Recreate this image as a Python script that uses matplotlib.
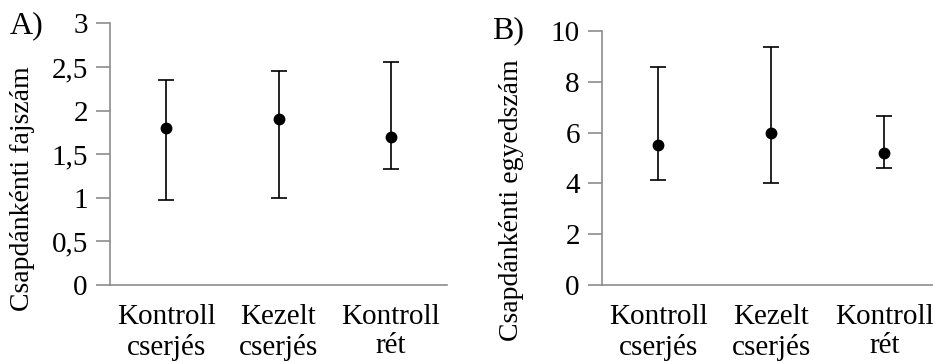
import matplotlib
matplotlib.use("Agg")
import matplotlib.pyplot as plt

categories = ["Kontroll\ncserjés", "Kezelt\ncserjés", "Kontroll\nrét"]
a_mean = [1.80, 1.90, 1.70]
a_upper = [2.35, 2.45, 2.56]
a_lower = [0.98, 1.00, 1.33]
a_ticks = [0, 0.5, 1, 1.5, 2, 2.5, 3]
a_ticklabels = ["0", "0,5", "1", "1,5", "2", "2,5", "3"]

b_mean = [5.5, 6.0, 5.2]
b_upper = [8.6, 9.37, 6.66]
b_lower = [4.12, 4.02, 4.6]
b_ticks = [0, 2, 4, 6, 8, 10]
b_ticklabels = ["0", "2", "4", "6", "8", "10"]

plt.rcParams['font.family'] = 'serif'
plt.rcParams['font.serif'] = ['Liberation Serif', 'DejaVu Serif']
FS = 21
GRAY = "#8c8c8c"

fig = plt.figure(figsize=(9.33, 3.64), dpi=100)
W, H = 933, 364
axA = fig.add_axes([110 / W, 1 - 285 / H, (447 - 110) / W, (285 - 23.3) / H])
axB = fig.add_axes([602 / W, 1 - 285 / H, (933 - 602) / W, (285 - 31) / H])

def draw(ax, mean, upper, lower, ticks, ticklabels, ylim, ylabel, xlim, lx, ly):
    x = list(range(len(categories)))
    yerr = [[m - l for m, l in zip(mean, lower)], [u - m for m, u in zip(mean, upper)]]
    ax.errorbar(x, mean, yerr=yerr, fmt='o', color='black', ecolor='black',
                elinewidth=1.2, capsize=6, capthick=1.2, markersize=7.5)
    ax.set_xlim(*xlim)
    ax.set_ylim(*ylim)
    ax.set_yticks(ticks)
    ax.set_yticklabels(ticklabels, fontsize=FS)
    ax.set_xticks(x)
    ax.set_xticklabels(categories, fontsize=FS, linespacing=1.15)
    ax.tick_params(axis='x', length=0, pad=14)
    ax.tick_params(axis='y', length=10, width=1.2, color=GRAY, pad=6)
    for s in ['top', 'right']:
        ax.spines[s].set_visible(False)
    for s in ['left', 'bottom']:
        ax.spines[s].set_color(GRAY)
        ax.spines[s].set_linewidth(1.2)
    ax.set_ylabel(ylabel, fontsize=20)
    ax.yaxis.set_label_coords(lx, ly)

draw(axA, a_mean, a_upper, a_lower, a_ticks, a_ticklabels, (0, 3),
     "Csapdánkénti fajszám", (-0.5, 2.5), -0.222, 0.37)
draw(axB, b_mean, b_upper, b_lower, b_ticks, b_ticklabels, (0, 10),
     "Csapdánkénti egyedszám", (-0.5, 2.43), -0.235, 0.335)

fig.text(10 / W, 1 - 26 / H, "A)", fontsize=23, va='center', ha='left')
fig.text(492 / W, 1 - 31 / H, "B)", fontsize=23, va='center', ha='left')

fig.savefig("out.png", dpi=100)
